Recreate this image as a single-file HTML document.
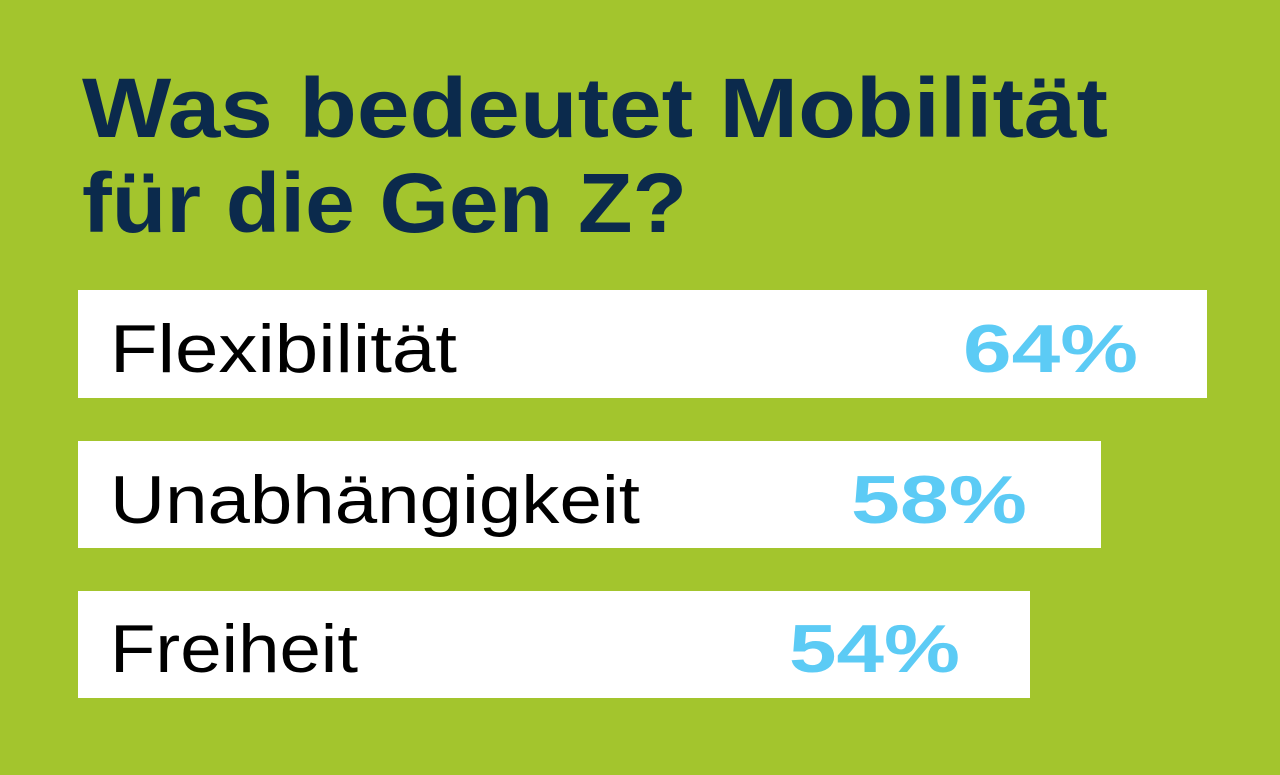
<!DOCTYPE html>
<html><head><meta charset="utf-8"><style>
html,body{margin:0;padding:0;background:#a3c52d;}
svg{display:block}
</style></head><body>
<svg width="1280" height="775" viewBox="0 0 1280 775" xmlns="http://www.w3.org/2000/svg">
<rect width="1280" height="775" fill="#a3c52d"/>
<g font-family="Liberation Sans, sans-serif" font-weight="bold" fill="#0b2a4c">
<text x="82" y="137" font-size="84" textLength="1026" lengthAdjust="spacingAndGlyphs">Was bedeutet Mobilität</text>
<text x="82" y="232" font-size="84" textLength="605" lengthAdjust="spacingAndGlyphs">für die Gen Z?</text>
</g>
<rect x="78" y="290" width="1129" height="108" fill="#fff"/>
<rect x="78" y="441" width="1023" height="107" fill="#fff"/>
<rect x="78" y="591" width="952" height="107" fill="#fff"/>
<g font-family="Liberation Sans, sans-serif" font-size="68" fill="#000">
<text x="110" y="372" textLength="347" lengthAdjust="spacingAndGlyphs">Flexibilität</text>
<text x="110" y="523" textLength="530" lengthAdjust="spacingAndGlyphs">Unabhängigkeit</text>
<text x="110" y="672" textLength="248" lengthAdjust="spacingAndGlyphs">Freiheit</text>
</g>
<g font-family="Liberation Sans, sans-serif" font-size="68" font-weight="bold" fill="#5ccbf5">
<text x="963" y="372" textLength="175" lengthAdjust="spacingAndGlyphs">64%</text>
<text x="851" y="523" textLength="176" lengthAdjust="spacingAndGlyphs">58%</text>
<text x="789" y="672" textLength="171" lengthAdjust="spacingAndGlyphs">54%</text>
</g>
</svg>
</body></html>
